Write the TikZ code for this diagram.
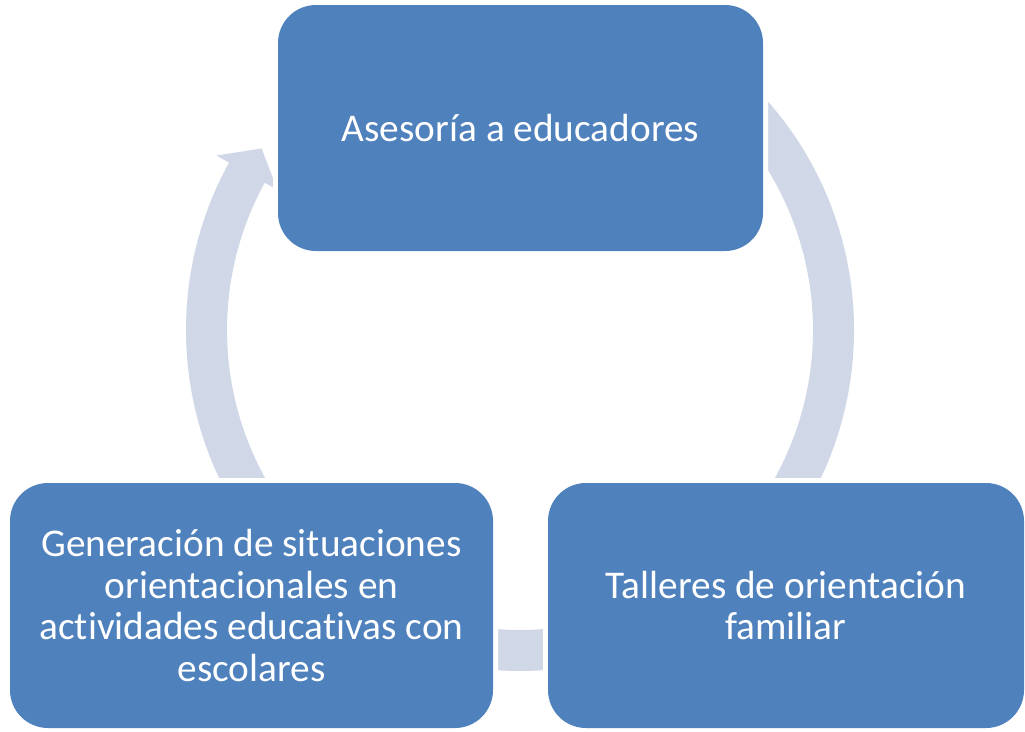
\documentclass[tikz,border=0pt]{standalone}
\usepackage{fontspec}
\setmainfont{Carlito}[Ligatures=NoCommon]
\usetikzlibrary{calc}
\definecolor{boxblue}{HTML}{4F81BD}
\definecolor{arclight}{HTML}{D0D8E8}
\begin{document}
\begin{tikzpicture}[x=1pt,y=1pt,
  box/.style={rounded corners=38pt, fill=boxblue, text=white, inner sep=0pt, align=center,
    font=\fontsize{39.3}{41.5}\selectfont, preaction={draw=white, line width=10pt}},
  ring/.style={draw=arclight, line width=41pt},
  head/.style={fill=arclight}]
\fill[white] (0,0) rectangle (1025,-731);
\useasboundingbox (0,0) rectangle (1025,-731);
\coordinate (c) at (520,-330);
% cycle arrows (behind the boxes)
\draw[ring] (c) ++(60:313.5pt and 320.5pt) arc[start angle=60, end angle=-35, x radius=313.5pt, y radius=320.5pt];
\draw[ring] (c) ++(-60:313.5pt and 320.5pt) arc[start angle=-60, end angle=-120, x radius=313.5pt, y radius=320.5pt];
\draw[ring] (c) ++(215:313.5pt and 320.5pt) arc[start angle=215, end angle=150, x radius=313.5pt, y radius=320.5pt];
\coordinate (h1) at ($(c)+(150.6:348.5pt and 355.5pt)$);
\coordinate (h2) at ($(c)+(150.6:278.5pt and 285.5pt)$);
\coordinate (h3) at ($(c)+(145.5:313.5pt and 320.5pt)$);
\fill[head] (h1) -- (h3) -- (h2) -- cycle;
% boxes
\node[box, minimum width=485pt, minimum height=246pt] (top) at (520.5,-128) {Asesoría a educadores};
\node[box, minimum width=483pt, minimum height=245pt] (gen) at (251.5,-605.5) {Generación de situaciones\\orientacionales en\\actividades educativas con\\escolares};
\node[box, minimum width=476pt, minimum height=245pt] (tal) at (786,-605.5) {Talleres de orientación\\familiar};
\end{tikzpicture}
\end{document}
